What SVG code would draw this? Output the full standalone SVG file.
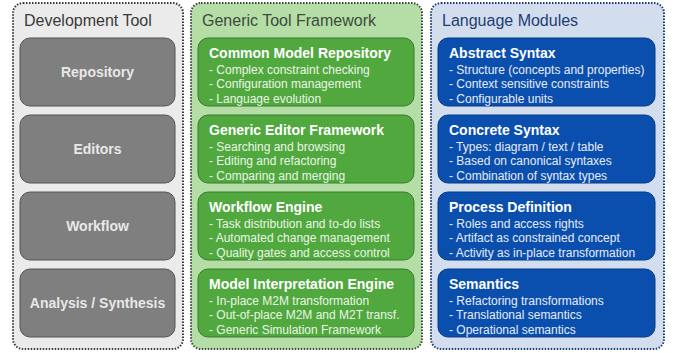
<svg xmlns="http://www.w3.org/2000/svg" width="675" height="353" viewBox="0 0 675 353">
<style>
.cont{stroke-width:2;stroke-dasharray:1.5 1.5}
.ctitle{font-family:"Liberation Sans",Arial,sans-serif;font-size:16px}
.gbox{fill:#7f7f7f;stroke:#555;stroke-width:1}
.gtxt{font-family:"Liberation Sans",Arial,sans-serif;font-size:14px;font-weight:bold;fill:#e8e8e8;text-anchor:middle}
.grn{fill:#50a83f;stroke:#3b7a2f;stroke-width:1}
.blu{fill:#0b4fae;stroke:#073a85;stroke-width:1}
.bt{font-family:"Liberation Sans",Arial,sans-serif;font-size:14px;font-weight:bold;fill:#ffffff}
.it{font-family:"Liberation Sans",Arial,sans-serif;font-size:12px}
.gi{fill:#eaf6e4}
.bi{fill:#e6ecf7}
</style>
<g id="dev-tool">
<rect class="cont" x="13" y="3" width="170" height="346" rx="10" fill="#ebebeb" stroke="#3a3a3a"/>
<text class="ctitle" x="24" y="26" fill="#3a3a3a">Development Tool</text>
</g>
<g id="gen-fw">
<rect class="cont" x="191" y="3" width="231" height="346" rx="10" fill="#b5dea7" stroke="#3d4a3a"/>
<text class="ctitle" x="202" y="26" fill="#3d4a3d">Generic Tool Framework</text>
</g>
<g id="lang-mod">
<rect class="cont" x="431" y="3" width="233" height="346" rx="10" fill="#d2ddee" stroke="#1f3d73"/>
<text class="ctitle" x="442" y="26" fill="#1f3d73">Language Modules</text>
</g>
<g id="repository"><rect class="gbox" x="20" y="38" width="155" height="68" rx="10"/><text class="gtxt" x="97.5" y="77">Repository</text></g>
<g id="editors"><rect class="gbox" x="20" y="115" width="155" height="68" rx="10"/><text class="gtxt" x="97.5" y="154">Editors</text></g>
<g id="workflow"><rect class="gbox" x="20" y="192" width="155" height="68" rx="10"/><text class="gtxt" x="97.5" y="231">Workflow</text></g>
<g id="analysis"><rect class="gbox" x="20" y="269" width="155" height="68" rx="10"/><text class="gtxt" x="97.5" y="308">Analysis / Synthesis</text></g>

<g id="cmr"><rect class="grn" x="198" y="38" width="216" height="68" rx="10"/>
<text class="bt" x="209" y="58">Common Model Repository</text>
<text class="it gi" x="209" y="74">- Complex constraint checking</text>
<text class="it gi" x="209" y="88">- Configuration management</text>
<text class="it gi" x="209" y="103">- Language evolution</text></g>
<g id="gef"><rect class="grn" x="198" y="115" width="216" height="68" rx="10"/>
<text class="bt" x="209" y="135">Generic Editor Framework</text>
<text class="it gi" x="209" y="151">- Searching and browsing</text>
<text class="it gi" x="209" y="165">- Editing and refactoring</text>
<text class="it gi" x="209" y="180">- Comparing and merging</text></g>
<g id="wfe"><rect class="grn" x="198" y="192" width="216" height="68" rx="10"/>
<text class="bt" x="209" y="212">Workflow Engine</text>
<text class="it gi" x="209" y="228">- Task distribution and to-do lists</text>
<text class="it gi" x="209" y="242">- Automated change management</text>
<text class="it gi" x="209" y="257">- Quality gates and access control</text></g>
<g id="mie"><rect class="grn" x="198" y="269" width="216" height="68" rx="10"/>
<text class="bt" x="209" y="289">Model Interpretation Engine</text>
<text class="it gi" x="209" y="305">- In-place M2M transformation</text>
<text class="it gi" x="209" y="319">- Out-of-place M2M and M2T transf.</text>
<text class="it gi" x="209" y="334">- Generic Simulation Framework</text></g>

<g id="abstract"><rect class="blu" x="438" y="38" width="217" height="68" rx="10"/>
<text class="bt" x="449" y="58">Abstract Syntax</text>
<text class="it bi" x="449" y="74">- Structure (concepts and properties)</text>
<text class="it bi" x="449" y="88">- Context sensitive constraints</text>
<text class="it bi" x="449" y="103">- Configurable units</text></g>
<g id="concrete"><rect class="blu" x="438" y="115" width="217" height="68" rx="10"/>
<text class="bt" x="449" y="135">Concrete Syntax</text>
<text class="it bi" x="449" y="151">- Types: diagram / text / table</text>
<text class="it bi" x="449" y="165">- Based on canonical syntaxes</text>
<text class="it bi" x="449" y="180">- Combination of syntax types</text></g>
<g id="process"><rect class="blu" x="438" y="192" width="217" height="68" rx="10"/>
<text class="bt" x="449" y="212">Process Definition</text>
<text class="it bi" x="449" y="228">- Roles and access rights</text>
<text class="it bi" x="449" y="242">- Artifact as constrained concept</text>
<text class="it bi" x="449" y="257">- Activity as in-place transformation</text></g>
<g id="semantics"><rect class="blu" x="438" y="269" width="217" height="68" rx="10"/>
<text class="bt" x="449" y="289">Semantics</text>
<text class="it bi" x="449" y="305">- Refactoring transformations</text>
<text class="it bi" x="449" y="319">- Translational semantics</text>
<text class="it bi" x="449" y="334">- Operational semantics</text></g>
<g id="connectors"/>
</svg>
